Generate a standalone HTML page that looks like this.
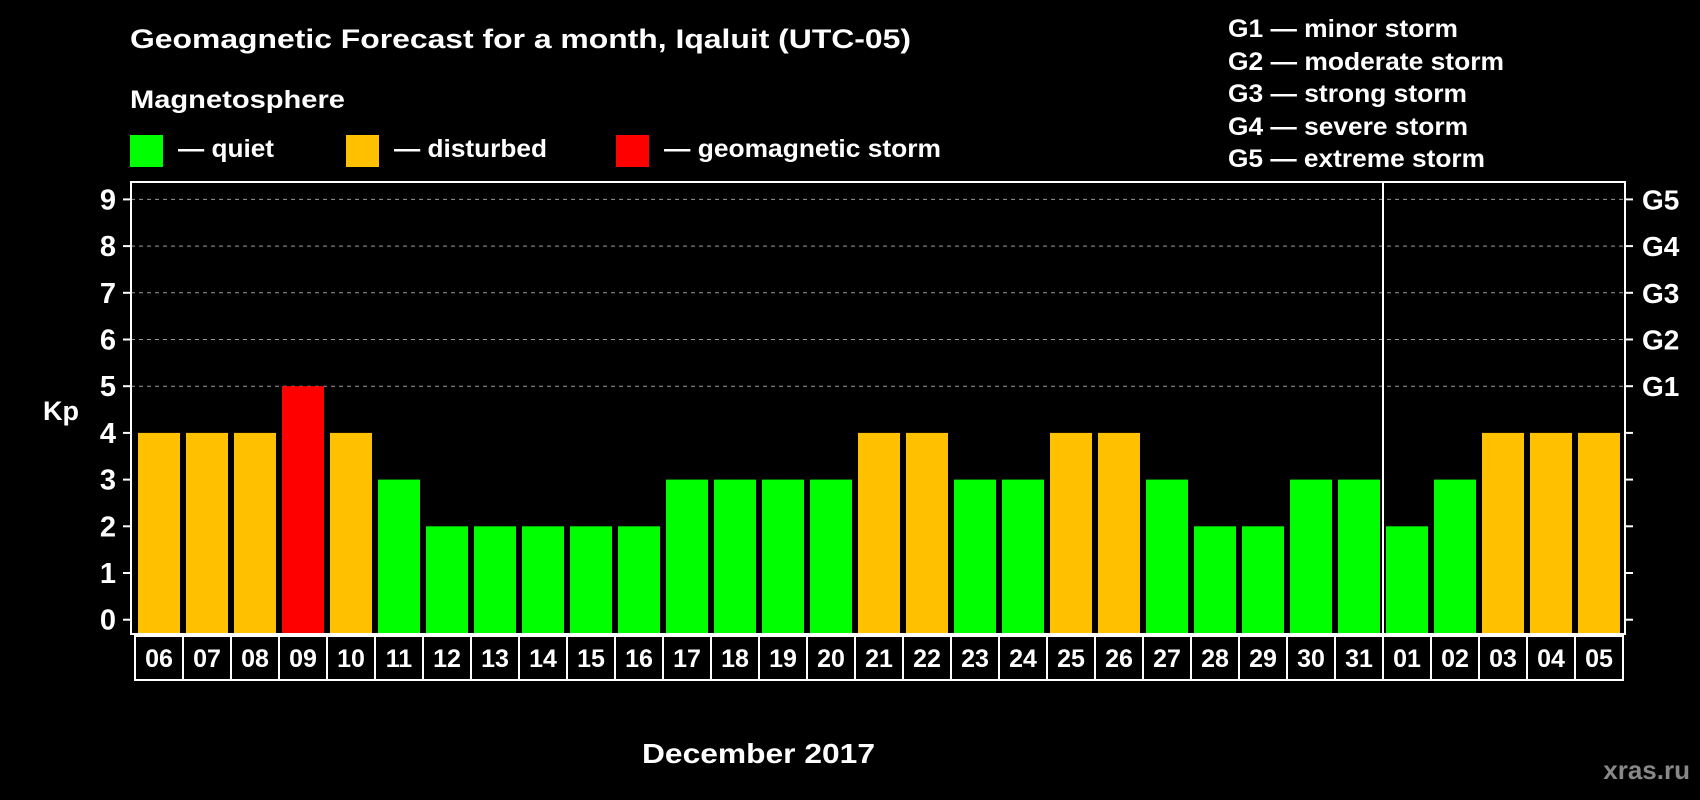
<!DOCTYPE html>
<html><head><meta charset="utf-8"><style>
html,body{margin:0;padding:0;background:#000;}
svg{display:block;font-family:"Liberation Sans",Arial,sans-serif;font-weight:bold;}
</style></head><body>
<svg id="chart" width="1700" height="800" viewBox="0 0 1700 800">
<text x="130" y="48" fill="#fff" font-size="27" textLength="781" lengthAdjust="spacingAndGlyphs">Geomagnetic Forecast for a month, Iqaluit (UTC-05)</text>
<text x="130" y="108" fill="#fff" font-size="25" textLength="215" lengthAdjust="spacingAndGlyphs">Magnetosphere</text>
<rect x="130" y="135" width="33" height="32" fill="#00ff00"/>
<text x="178" y="157" fill="#fff" font-size="25" textLength="96" lengthAdjust="spacingAndGlyphs">— quiet</text>
<rect x="346" y="135" width="33" height="32" fill="#ffc000"/>
<text x="394" y="157" fill="#fff" font-size="25" textLength="153" lengthAdjust="spacingAndGlyphs">— disturbed</text>
<rect x="616" y="135" width="33" height="32" fill="#ff0000"/>
<text x="664" y="157" fill="#fff" font-size="25" textLength="277" lengthAdjust="spacingAndGlyphs">— geomagnetic storm</text>
<g fill="#fff" font-size="25">
<text x="1228" y="37" textLength="230" lengthAdjust="spacingAndGlyphs">G1 — minor storm</text>
<text x="1228" y="70" textLength="276" lengthAdjust="spacingAndGlyphs">G2 — moderate storm</text>
<text x="1228" y="102" textLength="239" lengthAdjust="spacingAndGlyphs">G3 — strong storm</text>
<text x="1228" y="135" textLength="240" lengthAdjust="spacingAndGlyphs">G4 — severe storm</text>
<text x="1228" y="167" textLength="257" lengthAdjust="spacingAndGlyphs">G5 — extreme storm</text>
</g>
<text x="43" y="420" fill="#fff" font-size="27">Kp</text>
<text x="642" y="763" fill="#fff" font-size="28" textLength="233" lengthAdjust="spacingAndGlyphs">December 2017</text>
<text x="1690" y="779" fill="#888" font-size="26" text-anchor="end">xras.ru</text>
<g id="grid"></g><g id="bars"></g><g id="axes"></g><g id="labels"></g>
</svg>
<script>
const days = ["06","07","08","09","10","11","12","13","14","15","16","17","18","19","20","21","22","23","24","25","26","27","28","29","30","31","01","02","03","04","05"];
const kpValues = [4,4,4,5,4,3,2,2,2,2,2,3,3,3,3,4,4,3,3,4,4,3,2,2,3,3,2,3,4,4,4];
const yTicks = [0,1,2,3,4,5,6,7,8,9];
const gLabels = ["G1","G2","G3","G4","G5"];
const monthBreakIndex = 26;

const NS="http://www.w3.org/2000/svg";
const L=131,R=1625,T=182,B=634,x0=138,pitch=48,bw=42;
const y=v=>619.7-v*46.7;
const xb=i=>x0+i*pitch;
function mk(t,a,p){const e=document.createElementNS(NS,t);for(const k in a)e.setAttribute(k,a[k]);p.appendChild(e);return e;}
const grid=document.getElementById('grid'),bars=document.getElementById('bars'),axes=document.getElementById('axes'),labels=document.getElementById('labels');
yTicks.forEach(v=>{
  if(v>=5){const g=mk('line',{x1:L,x2:R,y1:y(v),y2:y(v),stroke:'#999','stroke-width':1,'stroke-dasharray':'4 4'},grid);
  
  }
  const t1=mk('line',{x1:L-8,x2:L,y1:y(v),y2:y(v),stroke:'#fff','stroke-width':2},axes);
  
  
  const t2=mk('line',{x1:R,x2:R+8,y1:y(v),y2:y(v),stroke:'#fff','stroke-width':2},axes);
  
  
  const tl=mk('text',{x:116,y:y(v)+10,fill:'#fff','font-size':29,'text-anchor':'end'},axes);
  tl.textContent=v;
  
  
});
gLabels.forEach((g,i)=>{
  const t=mk('text',{x:1642,y:y(5+i)+10,fill:'#fff','font-size':28},axes);
  t.textContent=g;
  
  
});
kpValues.forEach((v,i)=>{
  const c=v>=5?'#ff0000':(v>=4?'#ffc000':'#00ff00');
  const r=mk('rect',{x:xb(i),y:y(v),width:bw,height:B-1-y(v),fill:c},bars);
  
  
  const bx=mk('rect',{x:135+i*pitch,y:636,width:pitch,height:44,fill:'none',stroke:'#fff','stroke-width':2},labels);
  
  
  const t=mk('text',{x:135+i*pitch+pitch/2,y:667,fill:'#fff','font-size':25,'text-anchor':'middle'},labels);
  t.textContent=days[i];
  
  
});
const fr=mk('rect',{x:L,y:T,width:R-L,height:B-T,fill:'none',stroke:'#fff','stroke-width':2},axes);


const dx=xb(monthBreakIndex)-3;
const dv=mk('line',{x1:dx,x2:dx,y1:T,y2:B,stroke:'#fff','stroke-width':2},axes);


</script>
</body></html>
